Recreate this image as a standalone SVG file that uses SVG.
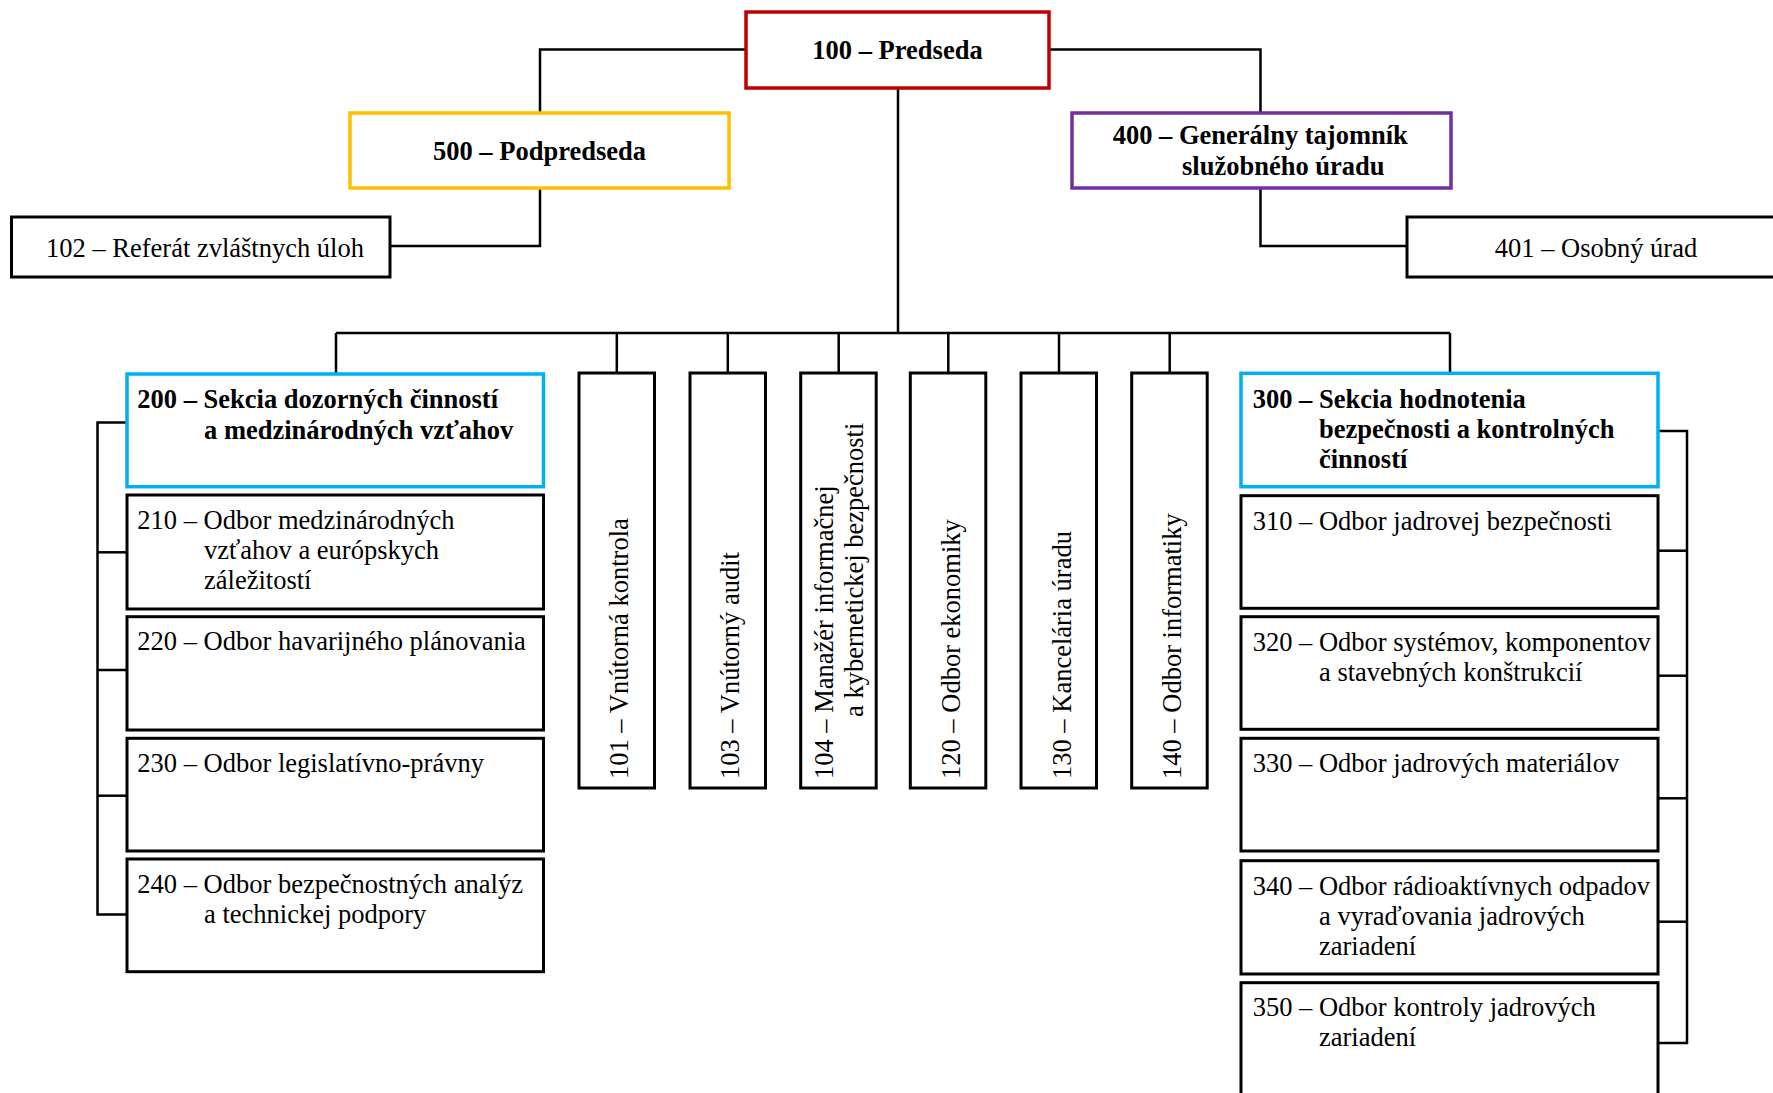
<svg xmlns="http://www.w3.org/2000/svg" width="1773" height="1093" viewBox="0 0 1773 1093">
<style>
  text { font-family: "Liberation Serif", "Times New Roman", serif; font-size: 26.5px; fill: #000; }
  .b { font-weight: bold; }
  .box { fill: #fff; stroke: #000; stroke-width: 3; }
  .red { fill: #fff; stroke: #C00000; stroke-width: 3.5; }
  .yel { fill: #fff; stroke: #FFC000; stroke-width: 3.5; }
  .pur { fill: #fff; stroke: #7030A0; stroke-width: 3.5; }
  .blu { fill: #fff; stroke: #00B0F0; stroke-width: 3.5; }
  .c { text-anchor: middle; }
  #connectors path { fill: none; stroke: #000; stroke-width: 2.5; }
</style>
<rect width="1773" height="1093" fill="#fff"/>

<g id="connectors">
  <path d="M746,49.5 H540 V113"/>
  <path d="M1049,49.5 H1260.5 V113"/>
  <path d="M540,188 V246 H390"/>
  <path d="M1260.5,188 V246 H1407"/>
  <path d="M898,88 V333"/>
  <path d="M336,333 H1450"/>
  <path d="M336,333 V374"/>
  <path d="M616.8,333 V373"/>
  <path d="M727.8,333 V373"/>
  <path d="M838.7,333 V373"/>
  <path d="M948.3,333 V373"/>
  <path d="M1059,333 V373"/>
  <path d="M1169.7,333 V373"/>
  <path d="M1450,333 V373"/>
  <path d="M127,422.5 H97.5 V914.5 H127"/>
  <path d="M97.5,552.3 H127"/>
  <path d="M97.5,670 H127"/>
  <path d="M97.5,795.7 H127"/>
  <path d="M1658,431 H1687 V1043 H1658"/>
  <path d="M1658,550.7 H1687"/>
  <path d="M1658,675.7 H1687"/>
  <path d="M1658,798.3 H1687"/>
  <path d="M1658,921.7 H1687"/>
</g>

<g id="n100">
  <rect class="red" x="746" y="12" width="303" height="76"/>
  <text class="b c" x="897.5" y="59">100 – Predseda</text>
</g>
<g id="n500">
  <rect class="yel" x="350" y="113" width="379" height="75"/>
  <text class="b c" x="539.5" y="160">500 – Podpredseda</text>
</g>
<g id="n400">
  <rect class="pur" x="1072" y="113" width="379" height="75"/>
  <text class="b" x="1112.7" y="144">400 – Generálny tajomník</text>
  <text class="b" x="1182" y="175">služobného úradu</text>
</g>
<g id="n102">
  <rect class="box" x="11.5" y="217" width="378.5" height="60"/>
  <text class="c" x="205" y="257">102 – Referát zvláštnych úloh</text>
</g>
<g id="n401">
  <rect class="box" x="1407" y="217" width="400" height="60"/>
  <text class="c" x="1596" y="257">401 – Osobný úrad</text>
</g>

<g id="n101">
  <rect class="box" x="579" y="373" width="75.5" height="415"/>
  <text transform="translate(628.3,779) rotate(-90)">101 – Vnútorná kontrola</text>
</g>
<g id="n103">
  <rect class="box" x="690" y="373" width="75.5" height="415"/>
  <text transform="translate(739.3,779) rotate(-90)">103 – Vnútorný audit</text>
</g>
<g id="n104">
  <rect class="box" x="800.7" y="373" width="75.5" height="415"/>
  <text transform="translate(833.3,779) rotate(-90)">104 – Manažér informačnej</text>
  <text transform="translate(863.3,717) rotate(-90)">a kybernetickej bezpečnosti</text>
</g>
<g id="n120">
  <rect class="box" x="910.3" y="373" width="75.5" height="415"/>
  <text transform="translate(959.5,779) rotate(-90)">120 – Odbor ekonomiky</text>
</g>
<g id="n130">
  <rect class="box" x="1021" y="373" width="75.5" height="415"/>
  <text transform="translate(1070.5,779) rotate(-90)">130 – Kancelária úradu</text>
</g>
<g id="n140">
  <rect class="box" x="1131.7" y="373" width="75.5" height="415"/>
  <text transform="translate(1181,779) rotate(-90)">140 – Odbor informatiky</text>
</g>

<g id="n200">
  <rect class="blu" x="127" y="374" width="416.5" height="112.7"/>
  <text class="b" x="137.3" y="407.5">200 – Sekcia dozorných činností</text>
  <text class="b" x="204" y="438.5">a medzinárodných vzťahov</text>
</g>
<g id="n210">
  <rect class="box" x="127" y="495" width="416.5" height="114"/>
  <text x="137.3" y="529">210 – Odbor medzinárodných</text>
  <text x="204" y="559">vzťahov a európskych</text>
  <text x="204" y="589">záležitostí</text>
</g>
<g id="n220">
  <rect class="box" x="127" y="616.7" width="416.5" height="113.3"/>
  <text x="137.3" y="650">220 – Odbor havarijného plánovania</text>
</g>
<g id="n230">
  <rect class="box" x="127" y="738.3" width="416.5" height="112.7"/>
  <text x="137.3" y="771.7">230 – Odbor legislatívno-právny</text>
</g>
<g id="n240">
  <rect class="box" x="127" y="859" width="416.5" height="112.7"/>
  <text x="137.3" y="892.7">240 – Odbor bezpečnostných analýz</text>
  <text x="204" y="923">a technickej podpory</text>
</g>

<g id="n300">
  <rect class="blu" x="1241" y="373.3" width="417" height="113.4"/>
  <text class="b" x="1252.7" y="408">300 – Sekcia hodnotenia</text>
  <text class="b" x="1319" y="438.3">bezpečnosti a kontrolných</text>
  <text class="b" x="1319" y="468.3">činností</text>
</g>
<g id="n310">
  <rect class="box" x="1241" y="495.7" width="417" height="112.6"/>
  <text x="1252.7" y="530">310 – Odbor jadrovej bezpečnosti</text>
</g>
<g id="n320">
  <rect class="box" x="1241" y="616.7" width="417" height="112.6"/>
  <text x="1252.7" y="650.7">320 – Odbor systémov, komponentov</text>
  <text x="1319" y="680.7">a stavebných konštrukcií</text>
</g>
<g id="n330">
  <rect class="box" x="1241" y="738.3" width="417" height="112.7"/>
  <text x="1252.7" y="772">330 – Odbor jadrových materiálov</text>
</g>
<g id="n340">
  <rect class="box" x="1241" y="860.7" width="417" height="113.3"/>
  <text x="1252.7" y="895">340 – Odbor rádioaktívnych odpadov</text>
  <text x="1319" y="924.5">a vyraďovania jadrových</text>
  <text x="1319" y="955">zariadení</text>
</g>
<g id="n350">
  <rect class="box" x="1241" y="982.7" width="417" height="130"/>
  <text x="1252.7" y="1016">350 – Odbor kontroly jadrových</text>
  <text x="1319" y="1046">zariadení</text>
</g>
</svg>
